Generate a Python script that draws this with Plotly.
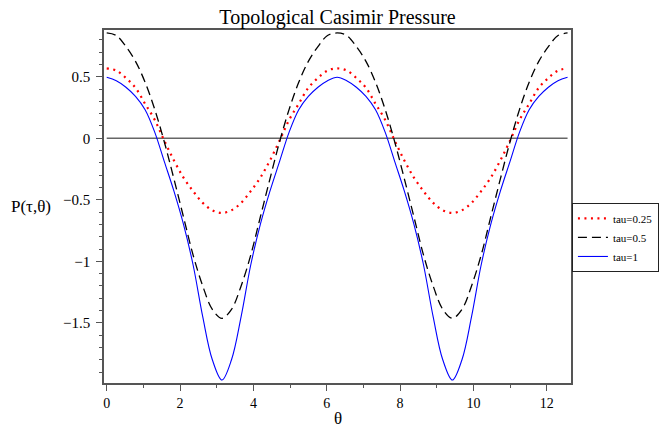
import plotly.graph_objects as go

# theta samples (0 .. 4*pi, step pi/12)
theta = [0.000, 0.262, 0.524, 0.785, 1.047, 1.309, 1.571, 1.833, 2.094, 2.356, 2.618, 2.880,
         3.142, 3.403, 3.665, 3.927, 4.189, 4.451, 4.712, 4.974, 5.236, 5.498, 5.760, 6.021,
         6.283, 6.545, 6.807, 7.069, 7.330, 7.592, 7.854, 8.116, 8.378, 8.639, 8.901, 9.163,
         9.425, 9.687, 9.948, 10.210, 10.472, 10.734, 10.996, 11.257, 11.519, 11.781, 12.043, 12.305,
         12.566]

p_tau025 = [0.568, 0.550, 0.490, 0.410, 0.280, 0.150, -0.020, -0.180, -0.320, -0.430, -0.525, -0.585,
            -0.607, -0.585, -0.525, -0.430, -0.320, -0.180, -0.020, 0.150, 0.280, 0.410, 0.490, 0.550,
            0.568, 0.550, 0.490, 0.410, 0.280, 0.150, -0.020, -0.180, -0.320, -0.430, -0.525, -0.585,
            -0.607, -0.585, -0.525, -0.430, -0.320, -0.180, -0.020, 0.150, 0.280, 0.410, 0.490, 0.550,
            0.568]

p_tau05 = [0.856, 0.835, 0.745, 0.625, 0.455, 0.235, -0.030, -0.330, -0.640, -0.950, -1.200, -1.390,
           -1.463, -1.390, -1.200, -0.950, -0.640, -0.330, -0.030, 0.235, 0.455, 0.625, 0.745, 0.835,
           0.856, 0.835, 0.745, 0.625, 0.455, 0.235, -0.030, -0.330, -0.640, -0.950, -1.200, -1.390,
           -1.463, -1.390, -1.200, -0.950, -0.640, -0.330, -0.030, 0.235, 0.455, 0.625, 0.745, 0.835,
           0.856]

p_tau1 = [0.496, 0.468, 0.415, 0.340, 0.232, 0.050, -0.190, -0.430, -0.700, -1.030, -1.450, -1.800,
          -1.965, -1.800, -1.450, -1.030, -0.700, -0.430, -0.190, 0.050, 0.232, 0.340, 0.415, 0.468,
          0.496, 0.468, 0.415, 0.340, 0.232, 0.050, -0.190, -0.430, -0.700, -1.030, -1.450, -1.800,
          -1.965, -1.800, -1.450, -1.030, -0.700, -0.430, -0.190, 0.050, 0.232, 0.340, 0.415, 0.468,
          0.496]

names = ["tau=0.25", "tau=0.5", "tau=1"]
title = "Topological Casimir Pressure"

SERIF = "Liberation Serif, Times New Roman, serif"
AXC = "#555555"

fig = go.Figure()

# horizontal axis line at P = 0 across the data range
fig.add_trace(go.Scatter(x=[theta[0], theta[-1]], y=[0, 0], mode="lines",
                         line=dict(color="#666666", width=1.5), showlegend=False, hoverinfo="skip"))

fig.add_trace(go.Scatter(x=theta, y=p_tau025, name=names[0], mode="lines",
                         line=dict(color="#ff0000", width=2.2, dash="2px,4.5px", shape="spline")))
fig.add_trace(go.Scatter(x=theta, y=p_tau05, name=names[1], mode="lines",
                         line=dict(color="#000000", width=1.3, dash="9px,5px", shape="spline")))
fig.add_trace(go.Scatter(x=theta, y=p_tau1, name=names[2], mode="lines",
                         line=dict(color="#0000ff", width=1.1, shape="spline")))

fig.update_layout(
    width=663, height=429,
    margin=dict(l=104, r=92, t=30, b=46, autoexpand=False),
    paper_bgcolor="white", plot_bgcolor="white",
    font=dict(family=SERIF, size=14, color="black"),
    title=dict(text=title, x=(104 + 571) / 2 / 663, xanchor="center",
               y=1 - 17 / 429, yanchor="middle", font=dict(family=SERIF, size=20, color="black")),
    showlegend=True,
    legend=dict(x=1.002, xanchor="left", y=0.51, yanchor="top",
                bordercolor="#222222", borderwidth=1, bgcolor="white",
                font=dict(family=SERIF, size=11, color="black"),
                tracegroupgap=0, itemwidth=30),
)

fig.update_xaxes(range=[-0.074, 12.66], showgrid=False, zeroline=False,
                 showline=True, linecolor=AXC, linewidth=1.5, mirror=True,
                 ticks="outside", ticklen=6, tickcolor=AXC, tickwidth=1,
                 dtick=2, tick0=0,
                 minor=dict(dtick=1, ticks="outside", ticklen=3, tickcolor=AXC),
                 tickfont=dict(family=SERIF, size=14))
fig.update_yaxes(range=[-1.989, 0.880], showgrid=False, zeroline=False,
                 showline=True, linecolor=AXC, linewidth=1.5, mirror=True,
                 ticks="outside", ticklen=6, tickcolor=AXC, tickwidth=1,
                 dtick=0.5, tick0=0,
                 minor=dict(dtick=0.1, ticks="outside", ticklen=3, tickcolor=AXC),
                 tickfont=dict(family=SERIF, size=15), ticklabelstandoff=3)

fig.add_annotation(text="P(τ,θ)", xref="paper", yref="paper", x=(31 - 104) / 467, y=0.5,
                   xanchor="center", yanchor="middle", showarrow=False,
                   font=dict(family=SERIF, size=17, color="black"))
fig.add_annotation(text="θ", xref="paper", yref="paper", x=0.5, y=(383 - 418) / 353,
                   xanchor="center", yanchor="middle", showarrow=False,
                   font=dict(family=SERIF, size=17, color="black"))

fig.write_html("out.html", config={"displayModeBar": False},
               post_script="document.body.style.margin='0';")
